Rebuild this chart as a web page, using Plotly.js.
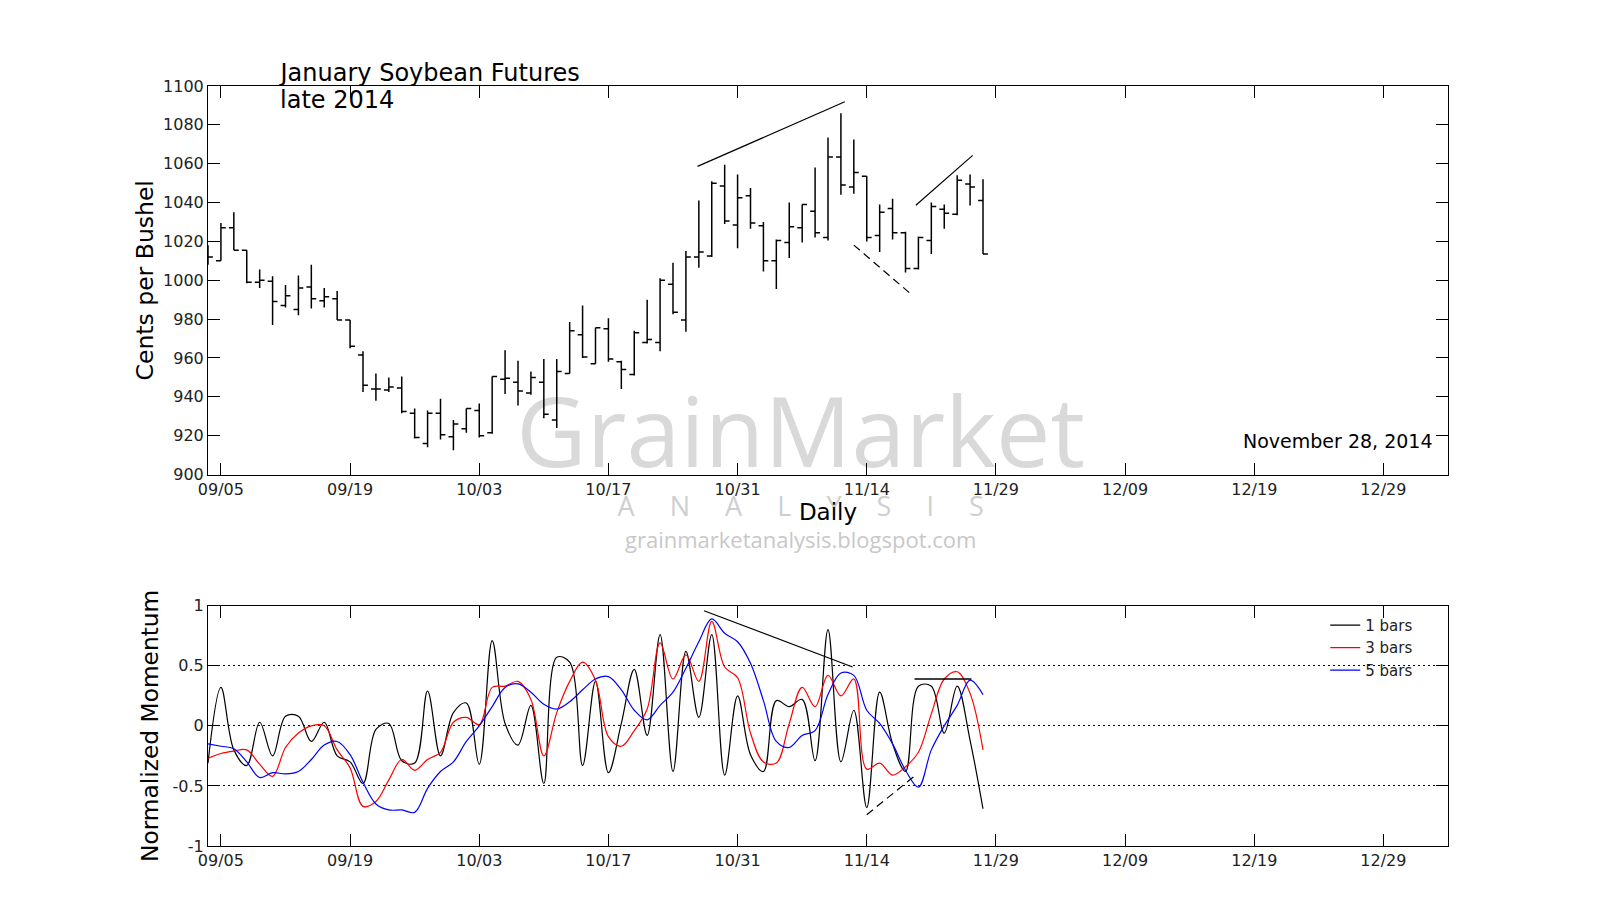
<!DOCTYPE html>
<html>
<head>
<meta charset="utf-8">
<script src="https://cdn.plot.ly/plotly-3.0.1.min.js"></script>
<style>html,body{margin:0;padding:0;background:#fff;}#chart{width:1600px;height:923px;}</style>
</head>
<body>
<div id="chart"></div>
<script>
// trading-day index (09/05 = 0)
const dayIndex = [-1,0,1,2,3,4,5,6,7,8,9,10,11,12,13,14,15,16,17,18,19,20,21,22,23,24,25,26,27,28,29,30,31,32,33,34,35,36,37,38,39,40,41,42,43,44,45,46,47,48,49,50,51,52,53,54,55,56,57,58,59];
const tickPositions = [0,10,20,30,40,50,60,70,80,90];
const tickLabels = ['09/05','09/19','10/03','10/17','10/31','11/14','11/29','12/09','12/19','12/29'];

// January soybean futures, cents per bushel
const openPrices  = [1015,1010,1027,1015.5,999,999.5,987,985,996.5,989.5,990.5,979.5,961.5,944,943.5,944.5,931.5,916,931.5,919.5,923.5,933,921.5,949,947.5,942,947.5,928,952,972,957,975,958,951.5,968,968,998,979.5,1012,1012.5,1048.5,1028.5,1043.5,1028,1010,1019.5,1027,1035.5,1022,1063.5,1048,1053.5,1023,1037,1024.5,1006,1020.5,1036.5,1034,1049.5,1041];
const highPrices  = [1018,1029.5,1035,1015.5,1005.5,1002,997.5,1002.5,1008,996,994.5,979.5,963.5,952,950,950.5,934,933,939,928,934,936.5,950.5,964,958.5,953,959.5,959.5,978.5,987,975.5,980.5,958.5,974,990,1001,1009,1015,1041,1051,1059.5,1054.5,1047.5,1030,1021,1040,1039,1058,1073.5,1086,1072.5,1053.5,1039,1042,1025,1022.5,1040,1039,1054,1054.5,1052];
const lowPrices   = [1008,1010,1015.5,998.5,996,977,986,982,985.5,986,979.5,965,942.5,938,942.5,931.5,918.5,914,918,912.5,921.5,919,921,941.5,935.5,941,929,924,952,960,957,958,944,951,967.5,963.5,982.5,973.5,1006.5,1012,1029,1016.5,1026.5,1004.5,995.5,1011.5,1019.5,1022,1020.5,1044,1044.5,1020,1014.5,1021,1004,1005.5,1013.5,1026.5,1033.5,1038.5,1013.5];
const closePrices = [1012,1027,1015.5,999,1000,989,992,996,990.5,991.5,979.5,966,946,944,945,932.5,919,931.5,920.5,926,934,920,950.5,949.5,943,950,931,953,974,960.5,975.5,959.5,954,973,969.5,1000,983.5,1012,1014.5,1050,1030.5,1042.5,1029.5,1010,1020.5,1027.5,1039,1024.5,1063.5,1049,1055.5,1022,1035,1024.5,1006,1022,1038,1034.5,1051.5,1048,1013.5];

// normalized momentum
const momentum1 = [-0.31,0.32,-0.20,-0.33,0.03,-0.25,0.08,0.08,-0.13,0.03,-0.25,-0.30,-0.48,-0.03,0.02,-0.29,-0.31,0.29,-0.25,0.11,0.19,-0.32,0.71,0.02,-0.16,0.17,-0.48,0.57,0.53,-0.33,0.37,-0.39,0.02,0.47,-0.08,0.76,-0.38,0.62,0.07,0.76,-0.41,0.25,-0.24,-0.38,0.21,0.16,0.22,-0.29,0.80,-0.30,0.13,-0.68,0.28,-0.15,-0.38,0.33,0.33,-0.06,0.33,-0.12,-0.69];
const momentum3 = [-0.27,-0.23,-0.21,-0.20,-0.32,-0.42,-0.18,-0.06,0.00,0.00,-0.20,-0.35,-0.67,-0.63,-0.45,-0.28,-0.37,-0.28,-0.22,0.03,0.07,0.01,0.32,0.33,0.37,0.22,-0.25,0.11,0.37,0.53,0.38,-0.09,-0.17,-0.04,0.14,0.69,0.39,0.59,0.37,0.87,0.49,0.40,-0.06,-0.30,-0.31,0.02,0.32,0.16,0.42,0.25,0.39,-0.36,-0.31,-0.41,-0.34,-0.22,0.10,0.39,0.45,0.27,-0.20];
const momentum5 = [-0.15,-0.17,-0.19,-0.30,-0.43,-0.39,-0.40,-0.38,-0.28,-0.16,-0.13,-0.24,-0.47,-0.65,-0.70,-0.70,-0.72,-0.52,-0.38,-0.30,-0.13,0.00,0.16,0.32,0.35,0.28,0.18,0.14,0.20,0.30,0.39,0.41,0.30,0.13,0.05,0.17,0.28,0.48,0.70,0.89,0.77,0.70,0.52,0.21,-0.13,-0.18,-0.08,-0.04,0.26,0.44,0.42,0.13,0.02,-0.15,-0.37,-0.51,-0.20,0.00,0.17,0.38,0.26];
const momentumNames = ['1 bars','3 bars','5 bars'];

// hand-drawn trend lines (day index, value)
const priceTopLineX = [36.9, 48.3],  priceTopLineY = [1058.6, 1091.9];
const priceLowLineX = [49.0, 53.4],  priceLowLineY = [1018.1, 993.0];
const priceRiseLineX = [53.8, 58.2], priceRiseLineY = [1038.6, 1064.3];
const momTopLineX = [37.4, 48.9],    momTopLineY = [0.958, 0.49];
const momLowLineX = [50.0, 53.9],    momLowLineY = [-0.74, -0.40];
const momFlatLineX = [53.7, 58.1],   momFlatLineY = [0.39, 0.39];

const FONT = 'DejaVu Sans, Verdana, sans-serif';
const WM_FONT = 'Open Sans, sans-serif';
const tickFont = {family: FONT, size: 16, color: '#222'};
const SP = '\u00a0\u00a0\u00a0\u00a0\u00a0';

const traces = [
  {type: 'ohlc', x: dayIndex, open: openPrices, high: highPrices, low: lowPrices, close: closePrices,
   xaxis: 'x', yaxis: 'y', tickwidth: 0.38, showlegend: false, hoverinfo: 'skip',
   increasing: {line: {color: '#000', width: 1.5}}, decreasing: {line: {color: '#000', width: 1.5}}},
  {type: 'scatter', mode: 'lines', x: priceTopLineX, y: priceTopLineY, xaxis: 'x', yaxis: 'y', showlegend: false, line: {color: '#000', width: 1.2}},
  {type: 'scatter', mode: 'lines', x: priceLowLineX, y: priceLowLineY, xaxis: 'x', yaxis: 'y', showlegend: false, line: {color: '#000', width: 1.2, dash: '8px,5px'}},
  {type: 'scatter', mode: 'lines', x: priceRiseLineX, y: priceRiseLineY, xaxis: 'x', yaxis: 'y', showlegend: false, line: {color: '#000', width: 1.2}},
  {type: 'scatter', mode: 'lines', name: momentumNames[0], x: dayIndex, y: momentum1, xaxis: 'x2', yaxis: 'y2', line: {color: '#000', width: 1.2, shape: 'spline', smoothing: 1}},
  {type: 'scatter', mode: 'lines', name: momentumNames[1], x: dayIndex, y: momentum3, xaxis: 'x2', yaxis: 'y2', line: {color: '#ff0000', width: 1.2, shape: 'spline', smoothing: 1}},
  {type: 'scatter', mode: 'lines', name: momentumNames[2], x: dayIndex, y: momentum5, xaxis: 'x2', yaxis: 'y2', line: {color: '#0000ff', width: 1.2, shape: 'spline', smoothing: 1}},
  {type: 'scatter', mode: 'lines', x: momTopLineX, y: momTopLineY, xaxis: 'x2', yaxis: 'y2', showlegend: false, line: {color: '#000', width: 1.2}},
  {type: 'scatter', mode: 'lines', x: momLowLineX, y: momLowLineY, xaxis: 'x2', yaxis: 'y2', showlegend: false, line: {color: '#000', width: 1.2, dash: '8px,5px'}},
  {type: 'scatter', mode: 'lines', x: momFlatLineX, y: momFlatLineY, xaxis: 'x2', yaxis: 'y2', showlegend: false, line: {color: '#000', width: 1.5}}
];

const axisCommon = {
  showline: true, linecolor: '#000', linewidth: 1, mirror: 'allticks',
  ticks: 'inside', ticklen: 12, tickcolor: '#000', tickwidth: 1,
  zeroline: false, tickfont: tickFont, fixedrange: true
};

const layout = {
  width: 1600, height: 923,
  margin: {l: 208, r: 152, t: 86, b: 77},
  paper_bgcolor: '#fff', plot_bgcolor: 'rgba(0,0,0,0)',
  font: {family: FONT, color: '#000'},
  showlegend: true,
  title: {text: 'January Soybean Futures', font: {family: FONT, size: 24, color: '#000'},
          x: 0.0585, xref: 'paper', xanchor: 'left', y: 0.921, yref: 'container', yanchor: 'middle'},
  xaxis: Object.assign({}, axisCommon, {domain: [0, 1], anchor: 'y', range: [-1, 95], tickmode: 'array',
          tickvals: tickPositions, ticktext: tickLabels, showgrid: false, rangeslider: {visible: false},
          title: {text: 'Daily', font: {family: FONT, size: 23, color: '#000'}, standoff: 6}}),
  yaxis: Object.assign({}, axisCommon, {domain: [0.4888, 1], anchor: 'x', range: [900, 1100], dtick: 20, tick0: 900,
          showgrid: false,
          title: {text: 'Cents per Bushel', font: {family: FONT, size: 23.5, color: '#000'}, standoff: 2}}),
  xaxis2: Object.assign({}, axisCommon, {domain: [0, 1], anchor: 'y2', range: [-1, 95], tickmode: 'array',
          tickvals: tickPositions, ticktext: tickLabels, showgrid: false}),
  yaxis2: Object.assign({}, axisCommon, {domain: [0, 0.3162], anchor: 'x2', range: [-1, 1], tickmode: 'array',
          tickvals: [-1, -0.5, 0, 0.5, 1], ticktext: ['-1', '-0.5', '0', '0.5', '1'],
          showgrid: true, gridcolor: '#000', gridwidth: 1, griddash: '2px,3px',
          title: {text: 'Normalized Momentum', font: {family: FONT, size: 23.3, color: '#000'}, standoff: 7}}),
  legend: {x: 0.901, xanchor: 'left', y: 0.312, yanchor: 'top', bgcolor: 'rgba(0,0,0,0)', borderwidth: 0,
           font: {family: FONT, size: 15, color: '#222'}, traceorder: 'normal'},
  shapes: [
    {type: 'rect', xref: 'paper', yref: 'paper', x0: 0.178, x1: 0.778, y0: 0.46, y1: 0.62, line: {width: 0},
     fillcolor: 'rgba(0,0,0,0)', layer: 'below',
     label: {text: 'GrainMarket', textposition: 'middle center', font: {family: WM_FONT, size: 97, color: '#d9d9d9'}}},
    {type: 'rect', xref: 'paper', yref: 'paper', x0: 0.178, x1: 0.778, y0: 0.421, y1: 0.471, line: {width: 0},
     fillcolor: 'rgba(0,0,0,0)', layer: 'below',
     label: {text: ['A','N','A','L','Y','S','I','S'].join(SP), textposition: 'middle center', font: {family: WM_FONT, size: 27, color: '#cfcfcf'}}},
    {type: 'rect', xref: 'paper', yref: 'paper', x0: 0.178, x1: 0.778, y0: 0.381, y1: 0.421, line: {width: 0},
     fillcolor: 'rgba(0,0,0,0)', layer: 'below',
     label: {text: 'grainmarketanalysis.blogspot.com', textposition: 'middle center', font: {family: WM_FONT, size: 22, color: '#c8c8c8'}}}
  ],
  annotations: [
    {text: 'late 2014', xref: 'paper', yref: 'paper', x: 0.0562, y: 0.982, xanchor: 'left', yanchor: 'middle',
     showarrow: false, font: {family: FONT, size: 24, color: '#000'}},
    {text: 'November 28, 2014', xref: 'paper', yref: 'paper', x: 0.9895, y: 0.5333, xanchor: 'right', yanchor: 'middle',
     showarrow: false, font: {family: FONT, size: 19, color: '#000'}}
  ]
};

Plotly.newPlot('chart', traces, layout, {staticPlot: true, displayModeBar: false});
</script>
</body>
</html>
